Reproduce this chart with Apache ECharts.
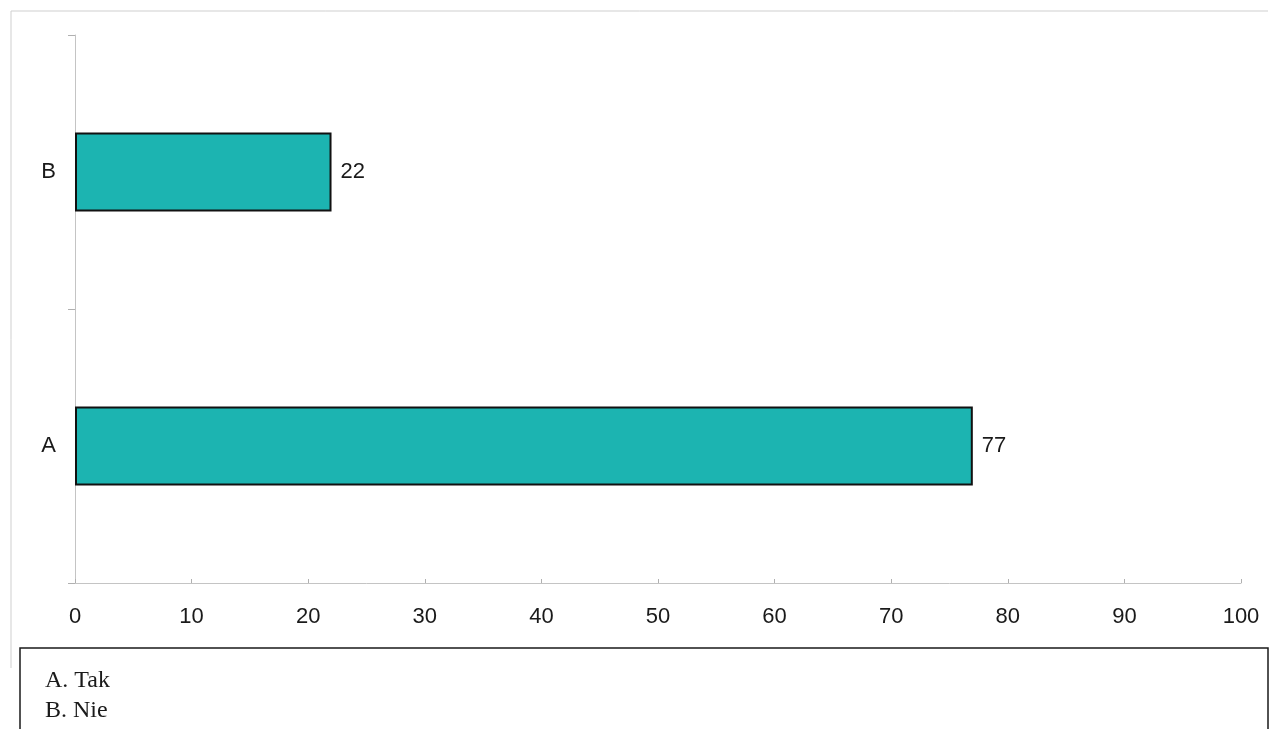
<!DOCTYPE html>
<html>
<head>
<meta charset="utf-8">
<script src="https://cdn.jsdelivr.net/npm/echarts@6/dist/echarts.min.js"></script>
<style>
  html, body { margin: 0; padding: 0; background: #ffffff; }
  #chart { width: 1269px; height: 729px; }
</style>
</head>
<body>
<div id="chart"></div>
<script>
// Survey answers and the share (%) for each
const categories = ['A', 'B'];
const values = [77, 22];
const legendLines = ['A. Tak', 'B. Nie'];
const xTicks = { min: 0, max: 100, interval: 10 };

const chart = echarts.init(document.getElementById('chart'));

chart.setOption({
  backgroundColor: '#ffffff',
  animation: false,
  grid: { left: 75, right: 28, top: 35, bottom: 146 },
  xAxis: {
    type: 'value',
    min: xTicks.min,
    max: xTicks.max,
    interval: xTicks.interval,
    axisLine: { show: true, lineStyle: { color: '#c4c4c4', width: 1 } },
    axisTick: { show: true, length: 4, inside: true, lineStyle: { color: '#b0b0b0' } },
    splitLine: { show: false },
    axisLabel: {
      color: '#1a1a1a',
      fontSize: 22,
      fontFamily: 'Liberation Sans, Arial, sans-serif',
      margin: 23
    }
  },
  yAxis: {
    type: 'category',
    data: categories,
    axisLine: { show: true, lineStyle: { color: '#c4c4c4', width: 1 } },
    axisTick: { show: true, length: 7, lineStyle: { color: '#b0b0b0' } },
    axisLabel: {
      color: '#1a1a1a',
      fontSize: 22,
      fontFamily: 'Liberation Sans, Arial, sans-serif',
      margin: 19
    }
  },
  series: [{
    type: 'bar',
    data: values,
    barWidth: 79,
    itemStyle: {
      color: '#1cb4b1',
      borderColor: '#111111',
      borderWidth: 2
    },
    label: {
      show: true,
      position: 'right',
      distance: 9,
      color: '#1a1a1a',
      fontSize: 22,
      fontFamily: 'Liberation Sans, Arial, sans-serif'
    }
  }],
  graphic: [
    {
      // light outer frame of the chart area
      type: 'polyline',
      silent: true,
      shape: { points: [[11, 668], [11, 11], [1268, 11]] },
      style: { stroke: '#cfcfcf', lineWidth: 1, fill: null }
    },
    {
      // key box below the chart
      type: 'rect',
      silent: true,
      shape: { x: 20, y: 648, width: 1248, height: 90 },
      style: { fill: '#ffffff', stroke: '#1a1a1a', lineWidth: 1.5 }
    },
    {
      type: 'text',
      silent: true,
      left: 45,
      top: 666,
      style: {
        text: legendLines.join('\n'),
        fill: '#1a1a1a',
        font: '24px "Liberation Serif", "Times New Roman", serif',
        lineHeight: 30
      }
    }
  ]
});
</script>
</body>
</html>
